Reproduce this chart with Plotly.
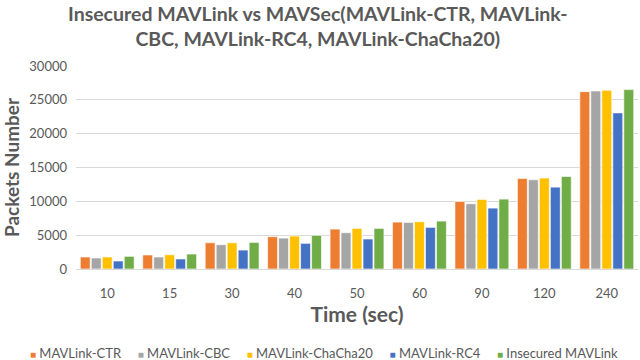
import plotly.graph_objects as go

TIMES = ["10", "15", "30", "40", "50", "60", "90", "120", "240"]
CTR = [1770, 2070, 3880, 4770, 5900, 6930, 9980, 13380, 26210]
CBC = [1620, 1770, 3590, 4570, 5360, 6880, 9640, 13180, 26310]
CHACHA = [1770, 2110, 3880, 4870, 6000, 6980, 10280, 13430, 26410]
RC4 = [1180, 1480, 2800, 3790, 4430, 6150, 9000, 12100, 23070]
INSECURE = [1870, 2210, 3930, 4970, 6000, 7080, 10330, 13670, 26510]

SERIES = [
    ("MAVLink-CTR", CTR, "#ED7D31"),
    ("MAVLink-CBC", CBC, "#A5A5A5"),
    ("MAVLink-ChaCha20", CHACHA, "#FFC000"),
    ("MAVLink-RC4", RC4, "#4472C4"),
    ("Insecured MAVLink", INSECURE, "#70AD47"),
]

FONT = "Lato"
GREY = "#595959"
TITLE = "Insecured MAVLink vs MAVSec(MAVLink-CTR, MAVLink-<br>CBC, MAVLink-RC4, MAVLink-ChaCha20)"

fig = go.Figure()
for name, values, color in SERIES:
    fig.add_trace(
        go.Bar(
            x=TIMES,
            y=values,
            name=name,
            marker=dict(color=color, line=dict(color="rgba(255,255,255,0.6)", width=1)),
        )
    )

# Excel-style compact legend: one line of coloured squares + names
legend_text = "&nbsp;&nbsp;&nbsp;&nbsp;&nbsp;".join(
    f"<span style='color:{color};font-size:10px'>■</span> {name}" for name, _, color in SERIES
)

fig.update_layout(
    width=640,
    height=360,
    barmode="group",
    bargap=0.12,
    bargroupgap=0.1,
    showlegend=False,
    margin=dict(l=76, r=2, t=66, b=91, autoexpand=False),
    paper_bgcolor="white",
    plot_bgcolor="white",
    font=dict(family=FONT, color=GREY, size=13),
)
fig.add_annotation(
    text=TITLE,
    xref="paper",
    yref="paper",
    x=0.43,
    y=1.325,
    xanchor="center",
    yanchor="top",
    showarrow=False,
    font=dict(family=FONT, size=19.5, color=GREY, weight="bold"),
    align="center",
)
fig.add_annotation(
    text=legend_text,
    xref="paper",
    yref="paper",
    x=0.441,
    y=-0.414,
    xanchor="center",
    yanchor="middle",
    showarrow=False,
    font=dict(family=FONT, size=13, color=GREY),
)
fig.update_xaxes(
    title=dict(text="Time (sec)", font=dict(size=21, weight="bold", color=GREY), standoff=6),
    showline=True,
    linecolor="#D9D9D9",
    ticklabelstandoff=12,
    automargin=False,
)
fig.update_yaxes(
    title=dict(text="Packets Number", font=dict(size=19, weight="bold", color=GREY), standoff=4),
    range=[0, 30000],
    dtick=5000,
    tickformat="d",
    gridcolor="#D9D9D9",
    gridwidth=1,
    zeroline=False,
    ticklabelstandoff=8,
    automargin=False,
)

# drop the browser's default 8px body margin so the figure sits at the page corner
fig.write_html(
    "out.html",
    config={"displayModeBar": False},
    post_script="document.body.style.margin = '0';",
)
